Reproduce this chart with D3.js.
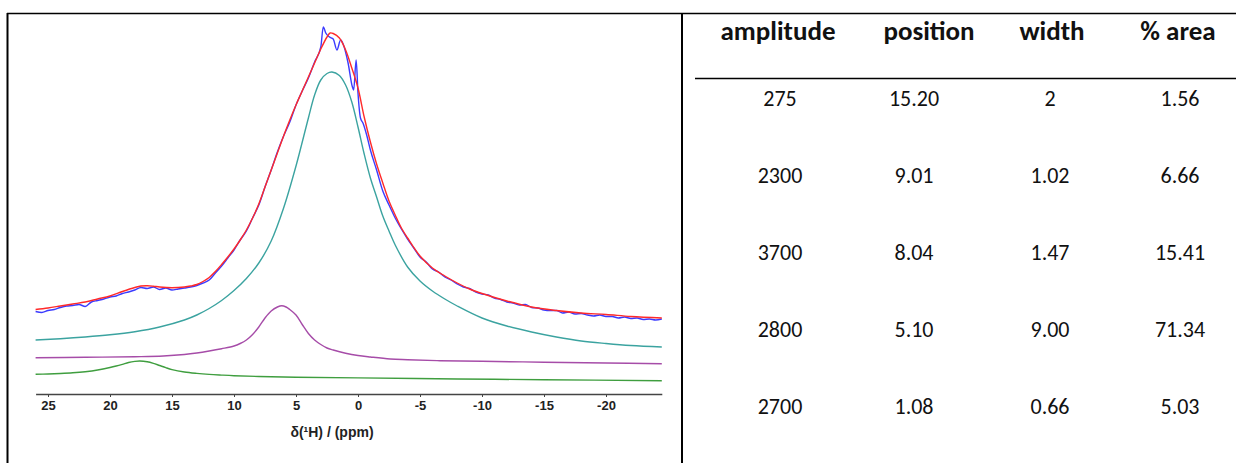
<!DOCTYPE html>
<html>
<head>
<meta charset="utf-8">
<script src="https://cdn.jsdelivr.net/npm/d3@7"></script>
<style>
  body { margin: 0; background: #fff; }
  .axis text { font-family: "Liberation Sans", Arial, sans-serif; font-weight: bold; font-size: 13px; fill: #222; }
  .tbl { font-family: Carlito, Lato, "Open Sans", sans-serif; fill: #111; }
</style>
</head>
<body>
<svg width="1236" height="463"></svg>
<script>
// ppm, intensity (a.u.)
var expData = [[26,78.5],[25.5,77.5],[25,79.5],[24.5,80.5],[24,82.5],[23.5,84],[23,84.5],[22.5,85.5],[22,83.5],[21.5,88],
  [21,89.5],[20.5,91],[20,93],[19.5,94],[19,96.5],[18.5,98],[18,100],[17.5,102.5],[17,101.5],[16.5,103],[16,100.5],[15.5,102],
  [15,100],[14.5,101],[14,102],[13.5,103],[13,104.5],[12.5,107],[12,110],[11.5,117],[11,124],[10.5,132],[10,140],[9.5,150],
  [9,159],[8.5,172],[8,185],[7.5,203],[7,220],[6.5,238],[6,254],[5.5,268],[5,285],[4.5,299],[4,312],[3.5,328],[3,343],
  [2.8,363],[2.6,357],[2.3,353],[2,351],[1.7,340],[1.4,350],[1.2,346],[0.8,327],[0.45,303],[0.35,300],[0.15,330],[0,297],
  [-0.2,272],[-0.4,267],[-0.7,255],[-1,240],[-1.5,220],[-2,199],[-2.5,185],[-3,172],[-3.5,161],[-4,151],[-4.5,142],[-5,133],
  [-5.5,128],[-6,121],[-6.5,118],[-7,113],[-7.5,110],[-8,106],[-8.5,103],[-9,101.5],[-9.5,98],[-10,96],[-10.5,95],[-11,92],
  [-11.5,90.5],[-12,88],[-12.5,87],[-13,85],[-13.5,85.5],[-14,82.5],[-14.5,82],[-15,80],[-15.5,79.5],[-16,79.5],[-16.5,77],
  [-17,78],[-17.5,76],[-18,76.5],[-18.5,75],[-19,74],[-19.5,75],[-20,73.5],[-20.5,73.5],[-21,72],[-21.5,73],[-22,71.5],
  [-22.5,72],[-23,70.5],[-23.5,71],[-24,70],[-24.5,71]];

var fitData = [[26,80.5],[25,82],[24,84],[23,86],[22,88],[21,91],[20,94],[19,98.5],[18,102.5],[17.5,104],[17,104.3],
  [16.5,103.8],[16,103],[15,102.3],[14,103],[13.5,104],[13,105.5],[12.5,108.5],[12,112.5],[11.5,118.5],[11,125.5],[10.5,133],
  [10,141],[9.5,150],[9,160],[8.5,172],[8,186],[7.5,203],[7,220],[6.5,237],[6,254],[5.5,270],[5,285],[4.5,299],[4,313],
  [3.5,327],[3,341],[2.5,353],[2.25,357],[2,356.5],[1.5,352],[1,340],[0.5,322],[0,302],[-0.5,273],[-1,248],[-1.5,226],
  [-2,207],[-2.5,189],[-3,175],[-3.5,162],[-4,152],[-5,134],[-6,122],[-7,114],[-8,107],[-9,101],[-10,96.5],[-12,89],
  [-14,83],[-16,79.5],[-18,77],[-20,75.5],[-22,73.5],[-24.5,72]];

var peak1 = [[26,50],[24,51.3],[22,53],[20,55.2],[18,58.3],[16,63],[14,70],[13,75],[12,81.5],[11,89.5],[10,99.5],[9,111.5],
  [8,127],[7,149],[6,182],[5,224],[4,272],[3.5,295],[3,310],[2.5,316.5],[2.1,318],[1.5,314.5],[1,305],[0.5,288],[0,263],
  [-0.5,236],[-1,212],[-1.5,193],[-2,174],[-2.5,159],[-3,145],[-4,123],[-5,109],[-6,99],[-7,91],[-8,84],[-10,72],[-12,64],
  [-14,58],[-16,53],[-18,49],[-20,46.5],[-22,44.5],[-24.5,43]];

var peak2 = [[26,32.3],[22,32.7],[18,33.3],[15.7,34],[14,35.5],[13,37],[12,39],[11,41.3],[10,44],[9.5,46.5],[9,50],
  [8.5,55.5],[8,63],[7.5,72],[7,79],[6.5,83],[6.15,84.3],[5.8,83],[5.5,80.5],[5,75],[4.5,65.5],[4,56.5],[3.5,50],[3,45.5],
  [2.5,42],[2,40],[1,36.8],[0,34.5],[-1,33],[-2.6,31],[-4,30.3],[-6.6,29.3],[-10,28.7],[-15,27.8],[-20,27],[-24.5,26.3]];

var peak3 = [[26,15.7],[25,16],[24,16.5],[23,17.2],[22,18.3],[21,20],[20,22.5],[19.5,24],[19,25.7],[18.5,27.5],[18,28.6],
  [17.6,29],[17,28.3],[16.5,26.7],[16,24.5],[15.5,22.3],[15,20.4],[14,18],[13,16.6],[12,15.6],[11,14.9],[10,14.3],[8,13.5],
  [5,12.8],[0,12.1],[-8,11],[-15,10.3],[-24.5,9.3]];

var xTicks = [25, 20, 15, 10, 5, 0, -5, -10, -15, -20];

var headers = ["amplitude", "position", "width", "% area"];
var amplitude = ["275", "2300", "3700", "2800", "2700"];
var position = ["15.20", "9.01", "8.04", "5.10", "1.08"];
var widths = ["2", "1.02", "1.47", "9.00", "0.66"];
var area = ["1.56", "6.66", "15.41", "71.34", "5.03"];

var svg = d3.select("svg");

// frame
svg.append("line").attr("x1", 7).attr("x2", 1236).attr("y1", 13.5).attr("y2", 13.5).attr("stroke", "#000").attr("stroke-width", 1.5);
svg.append("line").attr("x1", 7.5).attr("x2", 7.5).attr("y1", 13).attr("y2", 463).attr("stroke", "#000").attr("stroke-width", 2);
svg.append("line").attr("x1", 682).attr("x2", 682).attr("y1", 13).attr("y2", 463).attr("stroke", "#000").attr("stroke-width", 2);
svg.append("line").attr("x1", 695).attr("x2", 1236).attr("y1", 78.5).attr("y2", 78.5).attr("stroke", "#000").attr("stroke-width", 1.5);

var x = d3.scaleLinear().domain([26, -24.5]).range([35.6, 661.8]);
var y = d3.scaleLinear().domain([0, 360]).range([390, 30]);

var smooth = d3.line()
  .x(function (d) { return x(d[0]); })
  .y(function (d) { return y(d[1]); })
  .curve(d3.curveCatmullRom.alpha(0.5));

var jagged = d3.line()
  .x(function (d) { return x(d[0]); })
  .y(function (d) { return y(d[1]); })
  .curve(d3.curveMonotoneX);

var series = [
  { data: peak3, color: "#3f9e3f", gen: smooth },
  { data: peak2, color: "#a64ca8", gen: smooth },
  { data: peak1, color: "#3ba3a0", gen: smooth },
  { data: expData, color: "#3b3bff", gen: jagged },
  { data: fitData, color: "#ff2a2a", gen: smooth }
];

svg.selectAll(".curve")
  .data(series)
  .enter().append("path")
  .attr("class", "curve")
  .attr("fill", "none")
  .attr("stroke", function (d) { return d.color; })
  .attr("stroke-width", 1.4)
  .attr("d", function (d) { return d.gen(d.data); });

var axis = svg.append("g")
  .attr("class", "axis")
  .attr("transform", "translate(0,394)")
  .call(d3.axisBottom(x).tickValues(xTicks).tickSize(3).tickSizeOuter(0).tickFormat(function (d) { return String(d); }));
axis.select(".domain").attr("stroke", "#444").attr("stroke-width", 1.5);
axis.selectAll(".tick line").attr("stroke", "#444");
axis.selectAll(".tick text").attr("dy", "0.8em");

svg.append("text")
  .attr("x", 332).attr("y", 437)
  .attr("text-anchor", "middle")
  .attr("font-family", "'Liberation Sans', Arial, sans-serif")
  .attr("font-weight", "bold").attr("font-size", 14).attr("fill", "#222")
  .text("δ(¹H) / (ppm)");

// table
var headX = [778, 929, 1052, 1178];
var valX = [780, 914, 1050, 1180];
var rowY = d3.scalePoint().domain(d3.range(5)).range([98, 406]);

svg.selectAll(".hd")
  .data(headers)
  .enter().append("text")
  .attr("class", "tbl hd")
  .attr("x", function (d, i) { return headX[i]; })
  .attr("y", 31)
  .attr("dy", "0.35em")
  .attr("text-anchor", "middle")
  .attr("font-weight", "bold")
  .attr("font-size", 27)
  .text(function (d) { return d; });

var cols = [amplitude, position, widths, area];
cols.forEach(function (col, ci) {
  svg.selectAll(".c" + ci)
    .data(col)
    .enter().append("text")
    .attr("class", "tbl c" + ci)
    .attr("x", valX[ci])
    .attr("y", function (d, i) { return rowY(i); })
    .attr("dy", "0.35em")
    .attr("text-anchor", "middle")
    .attr("font-size", 22)
    .text(function (d) { return d; });
});
</script>
</body>
</html>
